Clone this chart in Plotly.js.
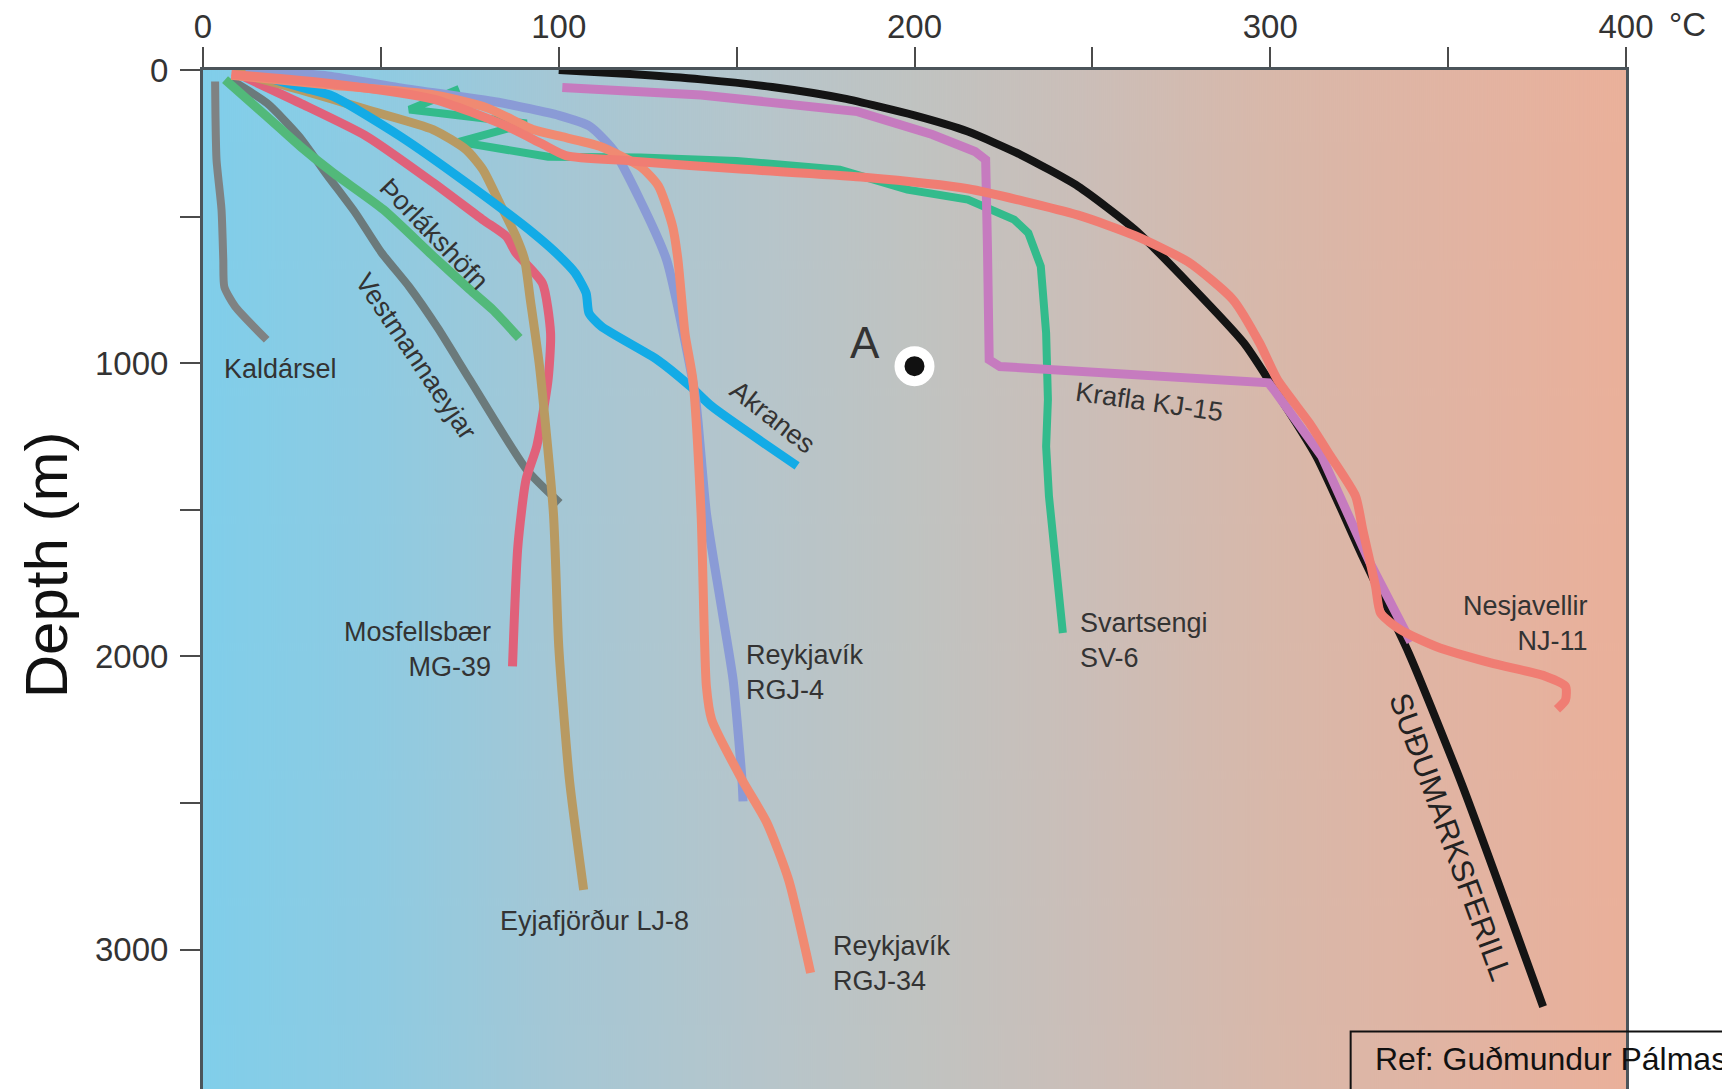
<!DOCTYPE html>
<html>
<head>
<meta charset="utf-8">
<script src="https://cdn.plot.ly/plotly-3.0.1.min.js"></script>
<style>
  html, body { margin: 0; padding: 0; background: #ffffff; }
  #chart { width: 1722px; height: 1089px; }
</style>
</head>
<body>
<div id="chart"></div>
<script>
// Temperature (°C) versus depth (m) in Icelandic boreholes, with the boiling-point-with-depth curve.

// Axis ticks
const tempTicks = [0, 50, 100, 150, 200, 250, 300, 350, 400];
const tempTickText = ['0', '', '100', '', '200', '', '300', '', '400'];
const depthTicks = [0, 500, 1000, 1500, 2000, 2500, 3000];
const depthTickText = ['0', '', '1000', '', '2000', '', '3000'];

// Boiling point curve (SUÐUMARKSFERILL)
const boilingT = [100, 120, 140, 160, 180, 200, 215, 230, 246, 262, 277, 292.6, 299.5, 313, 326, 339, 354, 376.7];
const boilingD = [0, 14, 32, 58, 97, 155, 210, 290, 397, 545, 727, 931, 1056, 1318, 1660, 1990, 2440, 3194];

// Kaldársel
const kaldarselT = [3.4, 3.5, 3.8, 5.2, 5.7, 6, 9, 17.9];
const kaldarselD = [39, 150, 306, 476, 647, 740, 806, 920];

// Vestmannaeyjar
const vestmT = [8, 18, 27, 35, 43, 50, 58, 66, 75, 91, 100.3];
const vestmD = [35, 113, 226, 360, 490, 620, 740, 880, 1056, 1363, 1476];

// Þorlákshöfn
const thorlT = [6.2, 17.9, 27.3, 36.6, 50.7, 64.8, 75, 81.5, 88.9];
const thorlD = [33, 158, 260, 351, 476, 636, 749, 818, 914];

// Mosfellsbær MG-39
const mosfT = [8.5, 27.3, 46, 64.8, 78.7, 85.3, 88, 95.4, 97.7, 97, 93.8, 90.8, 88.5, 87];
const mosfD = [6, 113, 226, 385, 511, 568, 624, 727, 897, 1056, 1284, 1397, 1625, 2034];

// Eyjafjörður LJ-8
const eyjaT = [8.5, 27.3, 46, 64.8, 74, 78.7, 83.4, 88, 90.4, 92, 94.6, 98.5, 100, 103, 107];
const eyjaD = [5, 67, 135, 204, 272, 340, 454, 568, 647, 783, 1011, 1511, 1966, 2420, 2796];

// Akranes
const akranesT = [12, 28, 36.6, 55.4, 74.1, 92.8, 100.3, 104.6, 107.7, 108.5, 112, 127.7, 137, 143, 167];
const akranesD = [5, 60, 90, 226, 385, 556, 636, 692, 761, 829, 875, 988, 1079, 1147, 1350];

// Reykjavík RGJ-4
const rgj4T = [12, 35, 55, 83, 100, 108.7, 115.3, 122.8, 130.3, 135, 138.5, 141.5, 146, 149, 151.5, 151.8];
const rgj4D = [0, 20, 60, 110, 155, 192, 272, 442, 647, 897, 1124, 1511, 1852, 2079, 2420, 2494];

// Reykjavík RGJ-34
const rgj34T = [8, 35, 65, 80, 93, 100, 111.5, 123, 128, 132, 133.5, 135.5, 137.7, 140, 141.5, 143, 151.5, 158.5, 164.6, 170.8];
const rgj34D = [18, 50, 85, 130, 204, 225, 260, 330, 395, 533, 647, 900, 1056, 1511, 2102, 2216, 2420, 2567, 2761, 3079];

// Svartsengi SV-6
const svartT = [72, 58, 91, 72, 97, 123, 150, 179, 198, 215, 228, 232, 235.5, 237, 237.5, 237, 237.8, 240, 241.7];
const svartD = [65, 135, 182, 245, 296, 298, 310, 340, 408, 442, 510, 556, 670, 897, 1124, 1284, 1454, 1738, 1920];

// Krafla KJ-15
const kraflaT = [101, 140, 184, 205, 217, 220, 220.5, 221, 224, 260, 299.5, 301, 314.5, 328, 339.5];
const kraflaD = [60, 85, 142, 220, 278, 306, 600, 988, 1011, 1040, 1067, 1090, 1318, 1680, 1950];

// Nesjavellir NJ-11
const nesjT = [8, 35, 65, 85, 95, 102, 120, 151, 185, 215, 246, 262, 277, 289.5, 297, 302, 311, 317, 324, 326, 329.6, 331, 336.6, 346.6, 362, 377.5, 383, 383, 380.6];
const nesjD = [15, 45, 100, 190, 250, 292, 310, 338, 365, 405, 495, 565, 655, 783, 931, 1056, 1204, 1318, 1454, 1568, 1761, 1852, 1909, 1966, 2022, 2068, 2102, 2148, 2180];

// Reference point A
const pointAT = [200];
const pointAD = [1010];

const FONT = 'Liberation Sans, Arial, Helvetica, sans-serif';

function well(t, d, color, width, shape) {
  return {
    type: 'scatter', mode: 'lines', x: t, y: d,
    line: { color: color, width: width, shape: shape || 'spline', smoothing: 0.6 },
    hoverinfo: 'skip', showlegend: false
  };
}

const traces = [
  well(svartT, svartD, '#33bb8c', 8, 'linear'),
  well(kaldarselT, kaldarselD, '#7f8283', 8),
  well(vestmT, vestmD, '#6b7a7b', 8),
  well(mosfT, mosfD, '#e0617a', 9),
  well(eyjaT, eyjaD, '#b89a62', 9),
  well(thorlT, thorlD, '#52b97a', 9),
  well(akranesT, akranesD, '#13abe6', 9),
  well(rgj4T, rgj4D, '#8a9bd6', 9),
  well(rgj34T, rgj34D, '#f08a72', 9),
  well(boilingT, boilingD, '#141414', 8),
  well(kraflaT, kraflaD, '#c67bbf', 9, 'linear'),
  well(nesjT, nesjD, '#f07d73', 9),
  {
    type: 'scatter', mode: 'markers', x: pointAT, y: pointAD,
    marker: { size: 30, color: '#111111', line: { color: '#ffffff', width: 10 } },
    hoverinfo: 'skip', showlegend: false
  }
];

function label(text, x, y, opts) {
  const o = opts || {};
  return {
    text: text, x: x, y: y, xref: 'x', yref: 'y', showarrow: false,
    textangle: o.angle || 0,
    xanchor: o.xanchor || 'center', yanchor: 'middle',
    align: o.align || 'center',
    font: { family: FONT, size: o.size || 27, color: o.color || '#333333' }
  };
}

const annotations = [
  label('Kaldársel', 21.9, 1019),
  label('Þorlákshöfn', 65, 558, { angle: 46 }),
  label('Vestmannaeyjar', 60, 978, { angle: 56 }),
  label('Akranes', 160, 1184, { angle: 38 }),
  label('Krafla KJ-15', 266, 1131, { angle: 8 }),
  label('Mosfellsbær<br>MG-39', 81.5, 1976, { xanchor: 'right', align: 'right' }),
  label('Reykjavík<br>RGJ-4', 152, 2054, { xanchor: 'left', align: 'left' }),
  label('Eyjafjörður LJ-8', 110, 2903),
  label('Reykjavík<br>RGJ-34', 176.5, 3047, { xanchor: 'left', align: 'left' }),
  label('Svartsengi<br>SV-6', 246, 1944, { xanchor: 'left', align: 'left' }),
  label('Nesjavellir<br>NJ-11', 389.8, 1888, { xanchor: 'right', align: 'right' }),
  label('SUÐUMARKSFERILL', 350.6, 2614, { angle: 70, size: 31, color: '#222222' }),
  label('A', 186, 928, { size: 44, color: '#333333' }),
  {
    text: '°C', xref: 'paper', yref: 'paper', x: 1.029, y: 1.0445,
    xanchor: 'left', yanchor: 'middle', showarrow: false,
    font: { family: FONT, size: 33, color: '#333333' }
  },
  {
    text: 'Depth (m)', xref: 'paper', yref: 'paper', x: -0.1103, y: 0.514,
    xanchor: 'center', yanchor: 'middle', textangle: -90, showarrow: false,
    font: { family: FONT, size: 60, color: '#111111' }
  },
  {
    text: 'Ref: Guðmundur Pálmason', xref: 'paper', yref: 'paper', x: 0.8222, y: 0.029,
    xanchor: 'left', yanchor: 'middle', showarrow: false,
    font: { family: FONT, size: 32, color: '#111111' }
  }
];

// Horizontal background gradient: cold (blue) to hot (salmon)
function gradientImage() {
  const c = document.createElement('canvas');
  c.width = 1423; c.height = 8;
  const ctx = c.getContext('2d');
  const g = ctx.createLinearGradient(0, 0, c.width, 0);
  g.addColorStop(0.00, '#80ceea');
  g.addColorStop(0.12, '#8ecbe2');
  g.addColorStop(0.25, '#a5c7d5');
  g.addColorStop(0.40, '#b7c5ca');
  g.addColorStop(0.50, '#c0c3c1');
  g.addColorStop(0.62, '#cbbeb8');
  g.addColorStop(0.75, '#d8b8aa');
  g.addColorStop(0.90, '#e3b3a1');
  g.addColorStop(1.00, '#eab09a');
  ctx.fillStyle = g;
  ctx.fillRect(0, 0, c.width, c.height);
  return c.toDataURL('image/png');
}

const axisCommon = {
  showgrid: false, zeroline: false,
  showline: true, linecolor: '#4b545a', linewidth: 3,
  ticks: 'outside', ticklen: 20, tickwidth: 2, tickcolor: '#4b4b4b',
  tickfont: { family: FONT, size: 33, color: '#333333' },
  fixedrange: true
};

const layout = {
  width: 1722, height: 1089,
  margin: { l: 203, r: 96, t: 70, b: 0, pad: 0 },
  paper_bgcolor: '#ffffff',
  plot_bgcolor: 'rgba(0,0,0,0)',
  showlegend: false,
  xaxis: Object.assign({}, axisCommon, {
    side: 'top', range: [0, 400],
    tickmode: 'array', tickvals: tempTicks, ticktext: tempTickText,
    ticklabelstandoff: -4
  }),
  yaxis: Object.assign({}, axisCommon, {
    range: [3475, 0], mirror: true,
    tickmode: 'array', tickvals: depthTicks, ticktext: depthTickText,
    ticklabelstandoff: 5
  }),
  images: [{
    source: gradientImage(), xref: 'paper', yref: 'paper',
    x: 0, y: 1, sizex: 1, sizey: 1, sizing: 'stretch',
    xanchor: 'left', yanchor: 'top', layer: 'below'
  }],
  shapes: [{
    type: 'rect', xref: 'paper', yref: 'paper',
    x0: 0.8065, x1: 1.3, y0: -0.2, y1: 0.0565,
    line: { color: '#111111', width: 2 }, fillcolor: 'rgba(0,0,0,0)'
  }],
  annotations: annotations
};

Plotly.newPlot('chart', traces, layout, { staticPlot: true, displayModeBar: false });
</script>
</body>
</html>
